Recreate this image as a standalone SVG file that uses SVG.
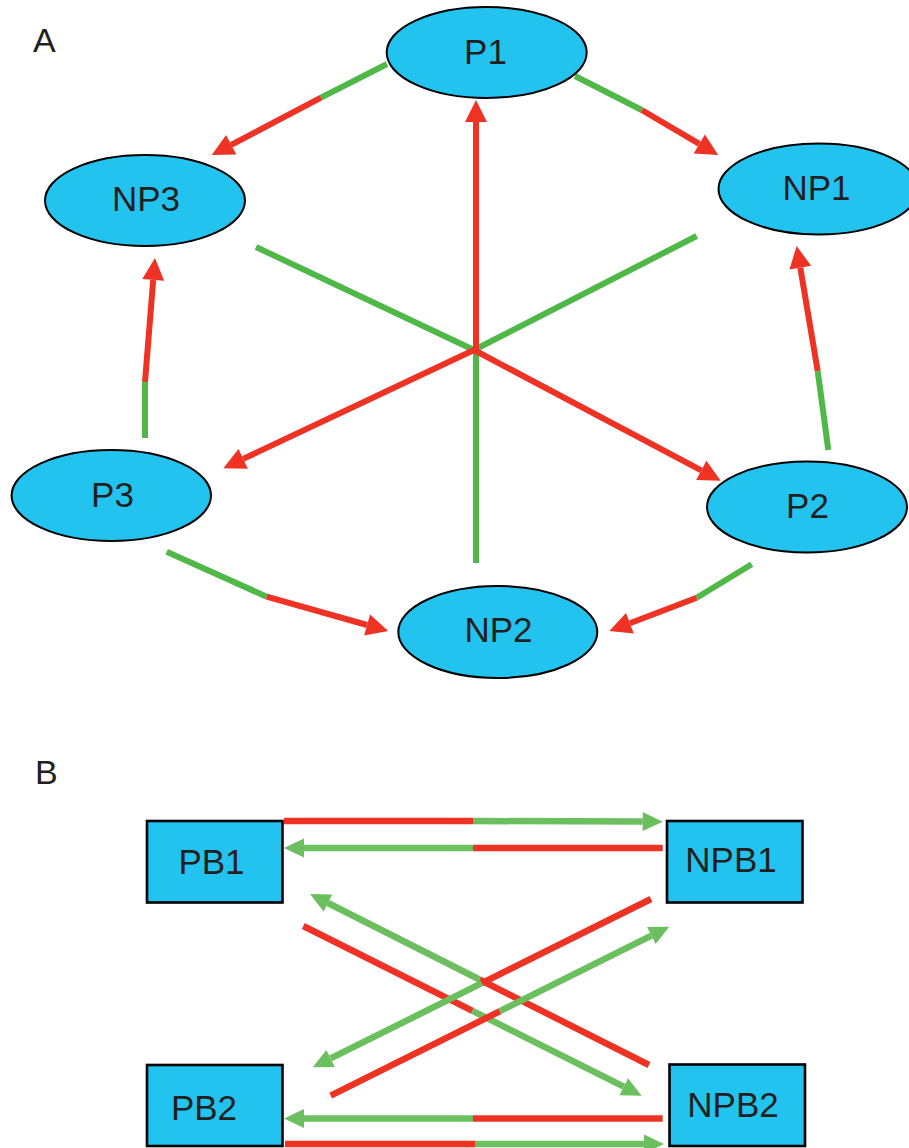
<svg xmlns="http://www.w3.org/2000/svg" width="909" height="1148" viewBox="0 0 909 1148">
<defs>
<marker id="ra" markerUnits="userSpaceOnUse" markerWidth="22" markerHeight="22" refX="0" refY="11" orient="auto" overflow="visible"><path d="M0,0 L22,11 L0,22 z" fill="#EE3325"/></marker>
<marker id="ga" markerUnits="userSpaceOnUse" markerWidth="20" markerHeight="20" refX="0" refY="10" orient="auto" overflow="visible"><path d="M0,0.5 L20,10 L0,19.5 z" fill="#6CBF5F"/></marker>
</defs>
<style>
.nd{fill:#22C4EF;stroke:#000;stroke-width:2}
.bx{fill:#22C4EF;stroke:#000;stroke-width:2.6}
.t{font-family:"Liberation Sans",Arial,sans-serif;font-size:35px;fill:#231F20;text-anchor:middle}
.lb{font-family:"Liberation Sans",Arial,sans-serif;font-size:34px;fill:#231F20}
.ga{stroke:#50B848;stroke-width:6;fill:none}
.r{stroke:#EE3325;stroke-width:6;fill:none}
.gb{stroke:#6CBF5F;stroke-width:6.5;fill:none}
.rb{stroke:#EE3325;stroke-width:6.5;fill:none}
</style>
<rect width="909" height="1148" fill="#fff"/>
<text class="lb" x="33" y="52">A</text>
<text class="lb" x="35" y="784">B</text>
<g id="connectors">
<!-- Part A -->
<line class="ga" x1="387" y1="64" x2="321" y2="97.7"/>
<line class="r" x1="321" y1="97.7" x2="231.2" y2="144.8" marker-end="url(#ra)"/>
<line class="ga" x1="575" y1="76" x2="641.7" y2="110"/>
<line class="r" x1="641.7" y1="110" x2="699.3" y2="143.9" marker-end="url(#ra)"/>
<line class="ga" x1="145" y1="438" x2="145" y2="382"/>
<line class="r" x1="145" y1="382" x2="153.2" y2="279.9" marker-end="url(#ra)"/>
<line class="ga" x1="828.3" y1="450" x2="817.7" y2="371"/>
<line class="r" x1="817.7" y1="371" x2="800.3" y2="267.7" marker-end="url(#ra)"/>
<line class="ga" x1="166.7" y1="551.7" x2="266.7" y2="596.7"/>
<line class="r" x1="266.7" y1="596.7" x2="367.1" y2="625" marker-end="url(#ra)"/>
<line class="ga" x1="751.7" y1="564.3" x2="696.7" y2="597.7"/>
<line class="r" x1="696.7" y1="597.7" x2="629.9" y2="623.2" marker-end="url(#ra)"/>
<line class="ga" x1="476" y1="563" x2="476" y2="350"/>
<line class="ga" x1="256" y1="247" x2="474" y2="350"/>
<line class="ga" x1="696.7" y1="236" x2="474" y2="350"/>
<line class="r" x1="476" y1="350" x2="476" y2="122" marker-end="url(#ra)"/>
<line class="r" x1="474" y1="350" x2="701.3" y2="470.4" marker-end="url(#ra)"/>
<line class="r" x1="474" y1="350" x2="243.2" y2="458.9" marker-end="url(#ra)"/>
<!-- Part B -->
<line class="rb" x1="284" y1="821" x2="473" y2="821"/>
<line class="gb" x1="473" y1="821" x2="642.7" y2="821.6" marker-end="url(#ga)"/>
<line class="rb" x1="662.7" y1="848" x2="473" y2="848"/>
<line class="gb" x1="473" y1="848" x2="304" y2="848" marker-end="url(#ga)"/>
<line class="rb" x1="662.7" y1="1118.5" x2="473" y2="1118.5"/>
<line class="gb" x1="473" y1="1118.5" x2="304" y2="1118.5" marker-end="url(#ga)"/>
<line class="rb" x1="285" y1="1144" x2="475" y2="1144"/>
<line class="gb" x1="475" y1="1144" x2="644" y2="1144" marker-end="url(#ga)"/>
<line class="rb" x1="649" y1="1065" x2="479.5" y2="979.5"/>
<line class="gb" x1="479.5" y1="979.5" x2="327.9" y2="903" marker-end="url(#ga)"/>
<line class="rb" x1="303.3" y1="926" x2="472.5" y2="1010.8"/>
<line class="gb" x1="472.5" y1="1010.8" x2="623.8" y2="1086.7" marker-end="url(#ga)"/>
<line class="rb" x1="651" y1="899" x2="481.8" y2="983.2"/>
<line class="gb" x1="481.8" y1="983.2" x2="330.6" y2="1058.4" marker-end="url(#ga)"/>
<line class="rb" x1="330.7" y1="1095.7" x2="500" y2="1011.2"/>
<line class="gb" x1="500" y1="1011.2" x2="651.4" y2="935.6" marker-end="url(#ga)"/>
</g>
<g id="P1"><ellipse class="nd" cx="486.7" cy="52.5" rx="100" ry="45.5"/><text class="t" x="485.5" y="63.5">P1</text></g>
<g id="NP3"><ellipse class="nd" cx="145" cy="200.5" rx="100" ry="45.5"/><text class="t" x="146" y="211">NP3</text></g>
<g id="NP1"><ellipse class="nd" cx="818.5" cy="189" rx="100" ry="45.5"/><text class="t" x="816.5" y="199.5">NP1</text></g>
<g id="P3"><ellipse class="nd" cx="111.3" cy="495.5" rx="99.7" ry="45.5"/><text class="t" x="112.5" y="506.7">P3</text></g>
<g id="P2"><ellipse class="nd" cx="807" cy="507" rx="100" ry="45.5"/><text class="t" x="807.5" y="517.7">P2</text></g>
<g id="NP2"><ellipse class="nd" cx="497.8" cy="632" rx="99.5" ry="46"/><text class="t" x="498.5" y="641.7">NP2</text></g>
<g id="PB1"><rect class="bx" x="147" y="821" width="135.5" height="81.5"/><text class="t" x="211.5" y="874">PB1</text></g>
<g id="NPB1"><rect class="bx" x="667" y="821" width="135.5" height="81.5"/><text class="t" x="731" y="871.7">NPB1</text></g>
<g id="PB2"><rect class="bx" x="147" y="1065" width="135.5" height="81"/><text class="t" x="204" y="1119.7">PB2</text></g>
<g id="NPB2"><rect class="bx" x="669.5" y="1064.5" width="135.5" height="81.5"/><text class="t" x="733" y="1117">NPB2</text></g>
</svg>
